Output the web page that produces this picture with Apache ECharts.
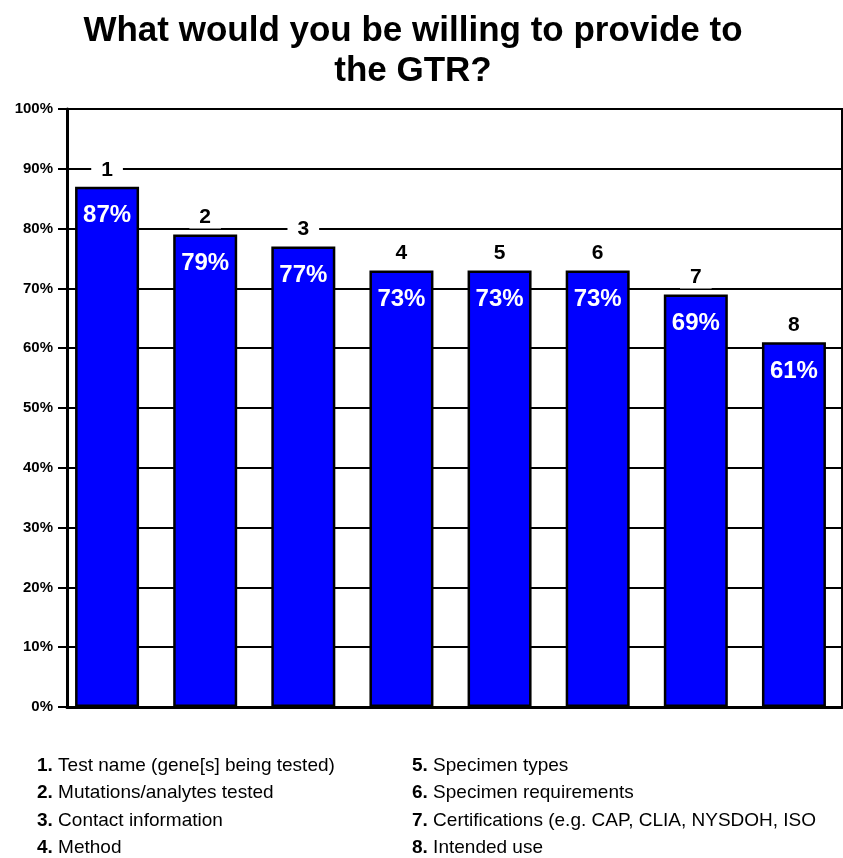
<!DOCTYPE html>
<html>
<head>
<meta charset="utf-8">
<script src="https://cdn.jsdelivr.net/npm/echarts@6/dist/echarts.min.js"></script>
<style>
  html, body { margin: 0; padding: 0; background: #fff; }
  #chart { width: 843px; height: 858px; }
</style>
</head>
<body>
<div id="chart"></div>
<script>
// Survey answers: share of respondents willing to provide each item
const categories = ['1', '2', '3', '4', '5', '6', '7', '8'];
const values = [87, 79, 77, 73, 73, 73, 69, 61];
const itemNames = [
  'Test name (gene[s] being tested)',
  'Mutations/analytes tested',
  'Contact information',
  'Method',
  'Specimen types',
  'Specimen requirements',
  'Certifications (e.g. CAP, CLIA, NYSDOH, ISO',
  'Intended use'
];
const titleText = 'What would you be willing to provide to\nthe GTR?';

const FONT = '"Liberation Sans", Arial, sans-serif';

// Key below the plot: two columns of four entries
const keyGraphics = itemNames.map((name, i) => ({
  type: 'text',
  left: i < 4 ? 37 : 412,
  top: 756 + (i % 4) * 27.5,
  style: {
    text: '{b|' + categories[i] + '.} ' + name,
    font: '19px ' + FONT,
    fill: '#000',
    rich: {
      b: { fontWeight: 'bold', fontSize: 19, fontFamily: FONT, fill: '#000' }
    }
  }
}));

const chart = echarts.init(document.getElementById('chart'), null, { renderer: 'canvas' });

chart.setOption({
  animation: false,
  backgroundColor: '#fff',
  title: {
    text: titleText,
    left: 408,
    textAlign: 'center',
    top: 6,
    textStyle: { fontSize: 35, fontWeight: 'bold', fontFamily: FONT, color: '#000', lineHeight: 40 }
  },
  grid: [
    { left: 67, right: 1, top: 109, bottom: 151, show: true, borderColor: '#000', borderWidth: 2, backgroundColor: 'transparent' },
    { left: 58, width: 789, top: 109, bottom: 151 }
  ],
  xAxis: [
    {
      gridIndex: 0, type: 'category', data: categories,
      axisLine: { show: true, lineStyle: { color: '#000', width: 3 } },
      axisTick: { show: false }, axisLabel: { show: false }, splitLine: { show: false }
    },
    { gridIndex: 1, type: 'category', data: categories, show: false }
  ],
  yAxis: [
    {
      gridIndex: 0, type: 'value', min: 0, max: 100, interval: 10,
      axisLine: { show: true, lineStyle: { color: '#000', width: 3 } },
      axisTick: { show: true, length: 9, lineStyle: { color: '#000', width: 2 } },
      axisLabel: { formatter: '{value}%', fontSize: 15, fontWeight: 'bold', fontFamily: FONT, color: '#000', margin: 14 },
      splitLine: { show: true, lineStyle: { color: '#000', width: 2 } }
    },
    { gridIndex: 1, type: 'value', min: 0, max: 100, show: false }
  ],
  series: [
    {
      type: 'bar', xAxisIndex: 1, yAxisIndex: 1,
      data: values, barWidth: 64,
      itemStyle: { color: '#0000FF', borderColor: '#000', borderWidth: 2.5 },
      label: {
        show: true, position: 'insideTop', distance: 17,
        formatter: '{c}%', color: '#fff', fontSize: 24, fontWeight: 'bold', fontFamily: FONT
      },
      silent: true
    },
    {
      // category numbers above each bar, with a white box that breaks the gridline
      type: 'bar', xAxisIndex: 1, yAxisIndex: 1,
      data: values, barWidth: 64, barGap: '-100%',
      itemStyle: { color: 'rgba(0,0,0,0)' },
      label: {
        show: true, position: 'top', distance: 6,
        formatter: (p) => p.name,
        color: '#000', fontSize: 21, fontWeight: 'bold', fontFamily: FONT,
        backgroundColor: '#fff', padding: [1, 10], lineHeight: 20
      },
      silent: true
    }
  ],
  graphic: keyGraphics
});
</script>
</body>
</html>
